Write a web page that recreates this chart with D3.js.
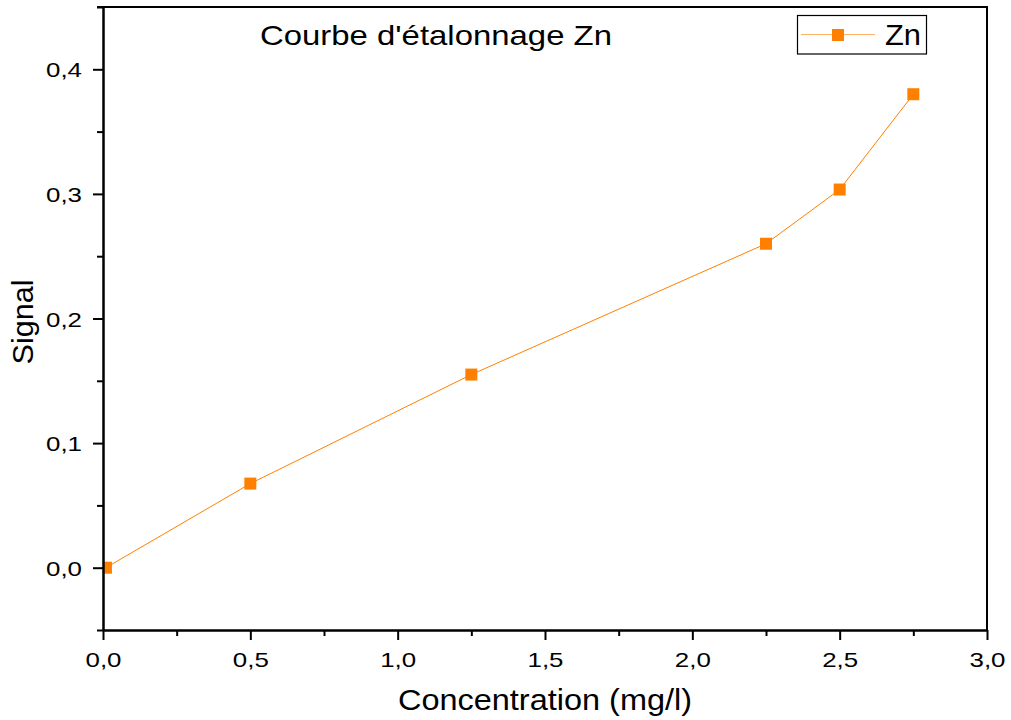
<!DOCTYPE html>
<html><head><meta charset="utf-8">
<script src="https://cdn.jsdelivr.net/npm/d3@7"></script>
<style>
html,body{margin:0;padding:0;background:#fff;}
text{font-family:"Liberation Sans",Arial,sans-serif;fill:#000;}
</style></head>
<body>
<svg id="c" width="1011" height="720"></svg>
<script>
const concentration = [0.01, 0.5, 1.25, 2.25, 2.5, 2.75];
const signal = [0.0, 0.0675, 0.155, 0.26, 0.3035, 0.38];
const xTicks = [0, 0.5, 1.0, 1.5, 2.0, 2.5, 3.0];
const xMinor = [0.25, 0.75, 1.25, 1.75, 2.25, 2.75];
const yTicks = [0, 0.1, 0.2, 0.3, 0.4];
const yMinor = [-0.05, 0.05, 0.15, 0.25, 0.35, 0.45];
const seriesName = "Zn";
const title = "Courbe d'étalonnage Zn";
const xTitle = "Concentration (mg/l)";
const yTitle = "Signal";

const color = "#FF8000";
const L = 103, R = 987, T = 7, B = 630;
const svg = d3.select("#c");
const x = d3.scaleLinear().domain([0, 3]).range([L, R]);
const y = d3.scaleLinear().domain([-0.05, 0.45]).range([B, T]);
const fmt = d => d3.format(".1f")(d).replace(".", ",");

svg.append("defs").append("clipPath").attr("id", "pc")
  .append("rect").attr("x", L).attr("y", T).attr("width", R - L).attr("height", B - T);

const g = svg.append("g").attr("clip-path", "url(#pc)");
g.append("path").datum(concentration.map((c, i) => [c, signal[i]]))
  .attr("fill", "none").attr("stroke", color).attr("stroke-width", 1)
  .attr("d", d3.line().x(d => x(d[0])).y(d => y(d[1])));
const ms = 12;
g.selectAll("rect.m").data(concentration.map((c, i) => [c, signal[i]])).join("rect")
  .attr("x", d => x(d[0]) - ms / 2).attr("y", d => y(d[1]) - ms / 2)
  .attr("width", ms).attr("height", ms).attr("fill", color);

// axes
const xAxis = svg.append("g").attr("transform", `translate(0,${B})`)
  .call(d3.axisBottom(x).tickValues(xTicks).tickFormat(fmt).tickSize(10).tickSizeOuter(0));
const xAxisMinor = svg.append("g").attr("transform", `translate(0,${B})`)
  .call(d3.axisBottom(x).tickValues(xMinor).tickFormat("").tickSize(6).tickSizeOuter(0));
const yAxis = svg.append("g").attr("transform", `translate(${L},0)`)
  .call(d3.axisLeft(y).tickValues(yTicks).tickFormat(fmt).tickSize(10).tickSizeOuter(0));
const yAxisMinor = svg.append("g").attr("transform", `translate(${L},0)`)
  .call(d3.axisLeft(y).tickValues(yMinor).tickFormat("").tickSize(6).tickSizeOuter(0));
[xAxis, xAxisMinor, yAxis, yAxisMinor].forEach(a => {
  a.select(".domain").attr("stroke", "#000").attr("stroke-width", 2);
  a.selectAll(".tick line").attr("stroke", "#000").attr("stroke-width", 2);
});
xAxis.selectAll(".tick text").attr("font-size", 21).attr("font-family", "Liberation Sans, Arial")
  .attr("y", 0).attr("dy", 0).attr("transform", "translate(0,37)")
  .attr("textLength", 36).attr("lengthAdjust", "spacingAndGlyphs");
yAxis.selectAll(".tick text").attr("font-size", 21).attr("font-family", "Liberation Sans, Arial")
  .attr("x", -21).attr("dy", "0.36em")
  .attr("textLength", 36).attr("lengthAdjust", "spacingAndGlyphs");

// frame top/right
svg.append("line").attr("x1", L - 6).attr("x2", R + 1).attr("y1", T).attr("y2", T)
  .attr("stroke", "#000").attr("stroke-width", 2);
svg.append("line").attr("x1", R).attr("x2", R).attr("y1", T).attr("y2", B)
  .attr("stroke", "#000").attr("stroke-width", 2);

// titles
svg.append("text").attr("x", 260).attr("y", 45).attr("font-size", 28)
  .attr("textLength", 352).attr("lengthAdjust", "spacingAndGlyphs").text(title);
svg.append("text").attr("x", 398).attr("y", 710).attr("font-size", 30)
  .attr("textLength", 294).attr("lengthAdjust", "spacingAndGlyphs").text(xTitle);
svg.append("text").attr("transform", "translate(33,322) rotate(-90)").attr("text-anchor", "middle")
  .attr("font-size", 29).attr("textLength", 85).attr("lengthAdjust", "spacingAndGlyphs").text(yTitle);

// legend
const lg = svg.append("g");
lg.append("rect").attr("x", 797.5).attr("y", 15.5).attr("width", 129).attr("height", 38.5)
  .attr("fill", "#fff").attr("stroke", "#000").attr("stroke-width", 1.2);
lg.append("line").attr("x1", 801).attr("x2", 875).attr("y1", 34.5).attr("y2", 34.5)
  .attr("stroke", color).attr("stroke-width", 1.2).attr("stroke-opacity", 0.6);
lg.append("rect").attr("x", 838 - ms / 2).attr("y", 35 - ms / 2).attr("width", ms).attr("height", ms).attr("fill", color);
lg.append("text").attr("x", 885).attr("y", 45).attr("font-size", 29)
  .attr("textLength", 36).attr("lengthAdjust", "spacingAndGlyphs").text(seriesName);
</script>
</body></html>
